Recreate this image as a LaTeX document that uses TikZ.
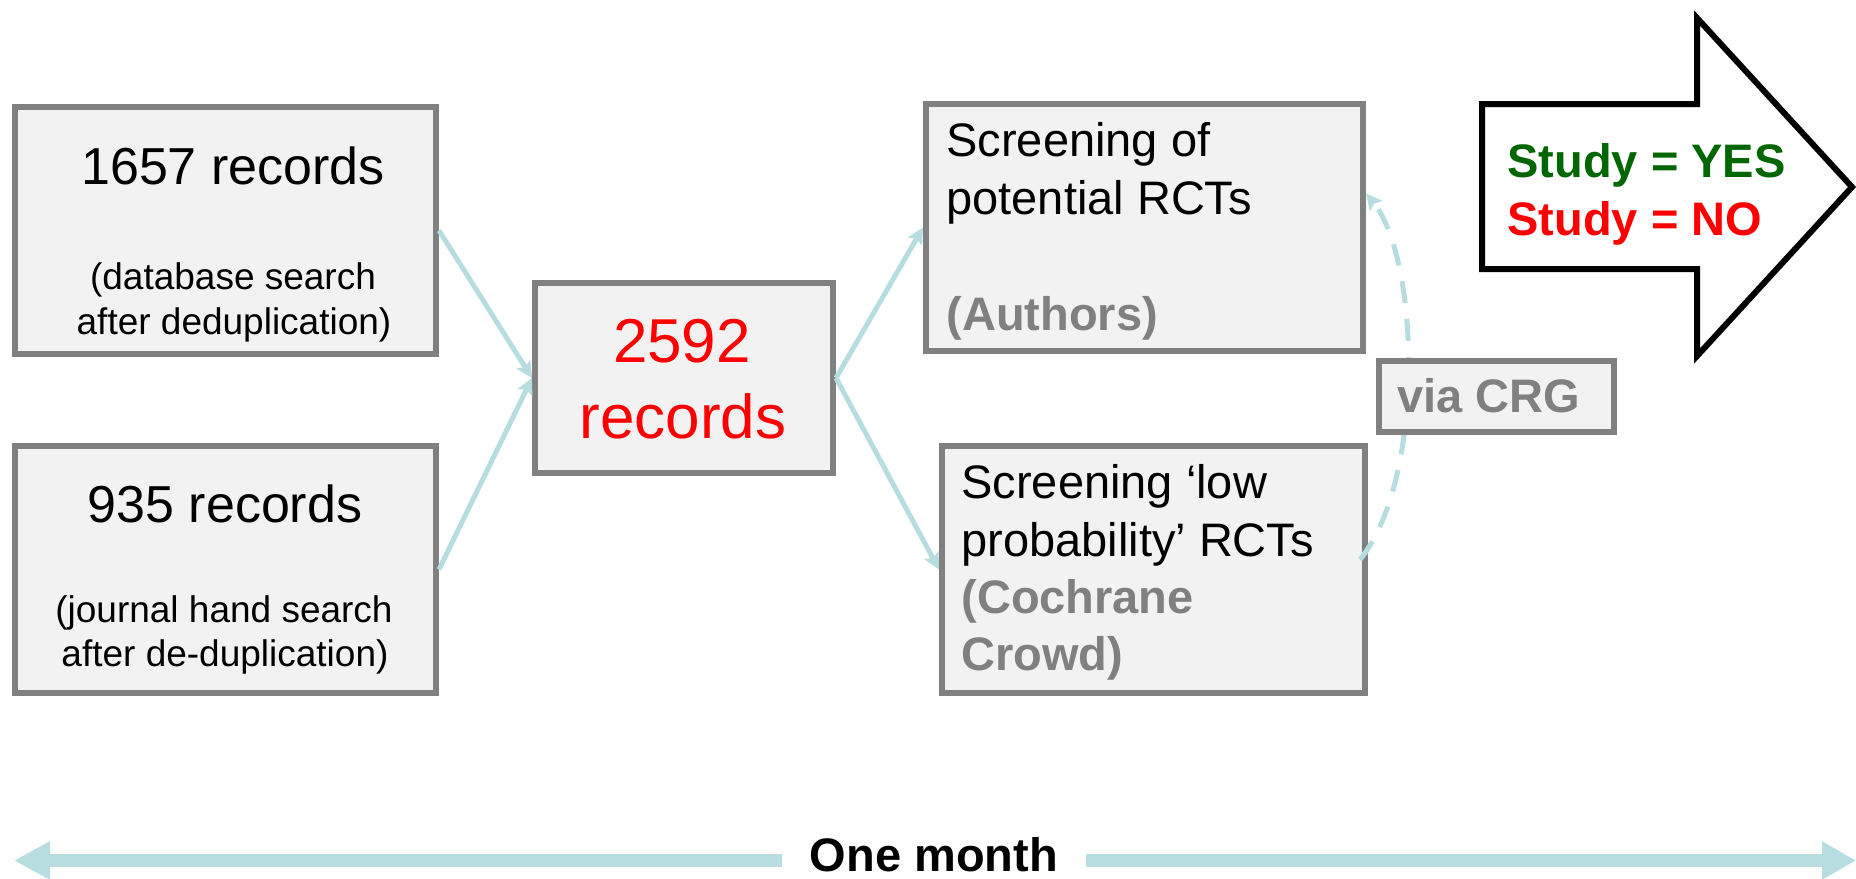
\documentclass[tikz,border=0pt]{standalone}
\usepackage{fontspec}
\setmainfont{Liberation Sans}
\usetikzlibrary{arrows.meta,calc}
\definecolor{lblue}{RGB}{183,221,225}
\definecolor{bgray}{RGB}{128,128,128}
\definecolor{bfill}{RGB}{242,242,242}
\definecolor{dgreen}{RGB}{0,102,0}
\definecolor{tgray}{RGB}{128,128,128}
\definecolor{tred}{RGB}{255,0,0}
\begin{document}
\begin{tikzpicture}[x=0.5pt,y=-0.5pt,
  box/.style={draw=bgray, fill=bfill, line width=3pt, rectangle, inner sep=0pt},
  conn/.style={draw=lblue, line width=2.5pt, -{Stealth[length=8pt,width=8pt,inset=1.5pt,fill=lblue]}},
  big/.style={inner sep=0pt, font=\fontsize{26pt}{30pt}\selectfont},
  small/.style={inner sep=0pt, font=\fontsize{18.5pt}{22pt}\selectfont},
  huge/.style={inner sep=0pt, text=tred, font=\fontsize{31pt}{36pt}\selectfont},
  mid/.style={inner sep=0pt, font=\fontsize{23.5pt}{28pt}\selectfont},
  midb/.style={inner sep=0pt, font=\fontsize{23.5pt}{28pt}\selectfont\bfseries}
]
\useasboundingbox (0,0) rectangle (1856,878);

% boxes
\node[box, minimum width=210.5pt, minimum height=123.5pt] (A) at (225.5,230.5) {};
\node[box, minimum width=210.5pt, minimum height=123.5pt] (B) at (225.5,569.5) {};
\node[box, minimum width=149pt, minimum height=95pt] (C) at (684,378) {};
\node[box, minimum width=218.5pt, minimum height=123.5pt] (D) at (1144.5,227.5) {};
\node[box, minimum width=211.5pt, minimum height=123.5pt] (E) at (1153.5,569.5) {};

% texts in box A
\node[big, anchor=base] (a1) at (233,184) {1657 records};
\node[small, anchor=base] (a2) at (233,289) {(database search};
\node[small, anchor=base] (a3) at (234,334) {after deduplication)};
% box B
\node[big, anchor=base] (b1) at (225,522) {935 records};
\node[small, anchor=base] (b2) at (224,622) {(journal hand search};
\node[small, anchor=base] (b3) at (225,666) {after de-duplication)};
% box C
\node[huge, anchor=base] (c1) at (682,362) {2592};
\node[huge, anchor=base] (c2) at (683,438) {records};
% box D
\node[mid, anchor=base west] (d1) at (946,156) {Screening of};
\node[mid, anchor=base west] (d2) at (946,214) {potential RCTs};
\node[midb, anchor=base west, text=tgray] (d3) at (946,330) {(Authors)};
% box E
\node[mid, anchor=base west] (e1) at (961,498) {Screening ‘low};
\node[mid, anchor=base west] (e2) at (961,556) {probability’ RCTs};
\node[midb, anchor=base west, text=tgray] (e3) at (961,613) {(Cochrane};
\node[midb, anchor=base west, text=tgray] (e4) at (961,670) {Crowd)};

% connectors
\draw[conn] (A.east) -- (C.west);
\draw[conn] (B.east) -- (C.west);
\draw[conn] (C.east) -- (D.west);
\draw[conn] (C.east) -- (E.west);
\draw[conn, dash pattern=on 11pt off 8pt]
  ($(E.east)+(-8,-10)$) .. controls (1425,480) and (1420,260) .. ($(D.east)+(0,-34)$);

% via CRG
\node[box, minimum width=117.5pt, minimum height=35.5pt] (via) at (1496.5,396.5) {};
\node[midb, anchor=base west, text=tgray] (viat) at (1397,412) {via CRG};

% big outcome arrow
\draw[line width=3pt, fill=white, line join=miter]
  (1482,104) -- (1697,104) -- (1697,18) -- (1852,187) -- (1697,356) -- (1697,269) -- (1482,269) -- cycle;
\node[midb, anchor=base west, text=dgreen] (yes) at (1507,177) {Study = YES};
\node[midb, anchor=base west, text=tred] (no) at (1507,235) {Study = NO};

% time line
\node[midb, anchor=base, inner xsep=14pt] (month) at (934,871) {One month};
\coordinate (lt) at (14,860.5);
\coordinate (rt) at (1856,860.5);
\draw[lblue, line width=6.5pt, -{Triangle[length=18pt,width=18pt]}] (month.west |- lt) -- (lt);
\draw[lblue, line width=6.5pt, -{Triangle[length=17pt,width=18pt]}] (month.east |- rt) -- (rt);
\end{tikzpicture}
\end{document}
